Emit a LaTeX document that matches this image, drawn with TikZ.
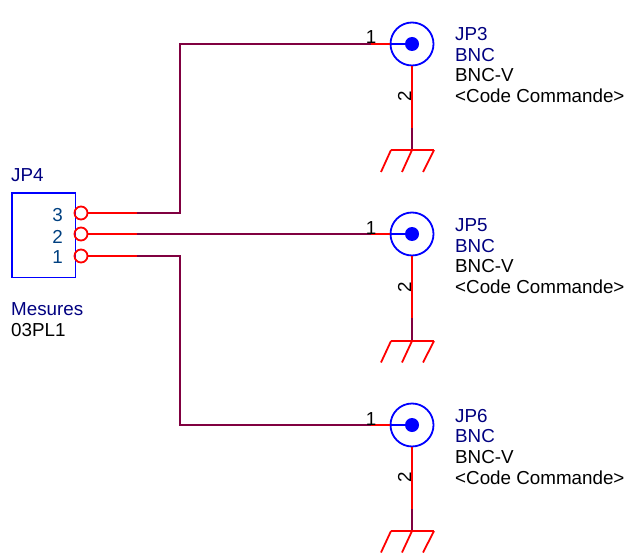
\documentclass[tikz,border=0pt]{standalone}
\usepackage{fontspec}
\setmainfont{Liberation Sans}
\definecolor{pinred}{HTML}{FF0000}
\definecolor{symblue}{HTML}{0000FF}
\definecolor{wirepurple}{HTML}{800040}
\definecolor{refnavy}{HTML}{000080}
\definecolor{pinnum}{HTML}{004080}
\tikzset{
	pinline/.style={color=pinred, line width=1.8pt},
	wireline/.style={color=wirepurple, line width=1.8pt},
	symline/.style={color=symblue, line width=1.8pt},
	bncring/.style={circle, draw=symblue, line width=1.8pt, minimum size=43pt, inner sep=0pt},
	bncdot/.style={circle, fill=symblue, minimum size=14pt, inner sep=0pt},
	pinring/.style={circle, draw=pinred, line width=1.8pt, minimum size=13pt, inner sep=0pt},
	txt/.style={anchor=base west, inner sep=0pt, font=\fontsize{18.8}{20}\selectfont},
	reftxt/.style={txt, text=refnavy},
	pinno/.style={anchor=base, inner sep=0pt, font=\fontsize{18.8}{20}\selectfont},
	gndbar/.style={color=pinred, line width=1.8pt}
}
\begin{document}
\begin{tikzpicture}[x=1pt, y=-1pt]
	\useasboundingbox (0,0) rectangle (628,553);
	% connector JP4
	\node[symline, draw, minimum width=63.5pt, minimum height=84.5pt, inner sep=0pt, anchor=north west] (jp4) at (11,192) {};
	\node[reftxt] (jp4ref) at (11,182) {JP4};
	\node[reftxt] (jp4val) at (11,315) {Mesures};
	\node[txt] (jp4pkg) at (11,336) {03PL1};
	\node[pinno, anchor=base east, text=pinnum] (jp4n3) at (63,221.5) {3};
	\node[pinno, anchor=base east, text=pinnum] (jp4n2) at (63,243) {2};
	\node[pinno, anchor=base east, text=pinnum] (jp4n1) at (63,263.5) {1};
	\node[pinring] (jp4p3) at (81,213) {};
	\node[pinring] (jp4p2) at (81,234) {};
	\node[pinring] (jp4p1) at (81,256) {};
	\coordinate (w3) at (137,213);
	\coordinate (w2) at (137,234);
	\coordinate (w1) at (137,256);
	\coordinate (k3) at (180,213);
	\coordinate (k1) at (180,256);
	\draw[pinline] (jp4p3) -- (w3);
	\draw[pinline] (jp4p2) -- (w2);
	\draw[pinline] (jp4p1) -- (w1);
	% JP3
	\node[bncring] (jp3) at (412,44) {};
	\node[bncdot] (jp3c) at (412,44) {};
	\coordinate (jp3a) at (371,44);
	\coordinate (jp3b) at (412,128);
	\coordinate (jp3g) at (412,150);
	\coordinate (jp3l) at (391,150);
	\coordinate (jp3r) at (434,150);
	\coordinate (jp3s1) at (381,172);
	\coordinate (jp3s2) at (402,172);
	\coordinate (jp3s3) at (423,172);
	\draw[wireline] (w3) -- (k3) |- (jp3a);
	\draw[pinline] (jp3a) -- (jp3.west);
	\draw[symline] (jp3.west) -- (jp3c);
	\draw[pinline] (jp3.south) -- (jp3b);
	\draw[wireline] (jp3b) -- (jp3g);
	\draw[gndbar] (jp3l) -- (jp3r);
	\draw[gndbar] (jp3l) -- (jp3s1);
	\draw[gndbar] (jp3g) -- (jp3s2);
	\draw[gndbar] (jp3r) -- (jp3s3);
	\node[pinno] (jp3n1) at (371,44) {1};
	\node[pinno, rotate=90] (jp3n2) at (411,96.5) {2};
	\node[reftxt] (jp3ref) at (455,41) {JP3};
	\node[reftxt] (jp3val) at (455,61.5) {BNC};
	\node[txt] (jp3pkg) at (455,82) {BNC-V};
	\node[txt] (jp3code) at (455,103) {<Code Commande>};
	% JP5
	\node[bncring] (jp5) at (412,234) {};
	\node[bncdot] (jp5c) at (412,234) {};
	\coordinate (jp5a) at (371,234);
	\coordinate (jp5b) at (412,318);
	\coordinate (jp5g) at (412,341);
	\coordinate (jp5l) at (391,341);
	\coordinate (jp5r) at (434,341);
	\coordinate (jp5s1) at (381,362.5);
	\coordinate (jp5s2) at (402,362.5);
	\coordinate (jp5s3) at (423,362.5);
	\draw[wireline] (w2) -- (jp5a);
	\draw[pinline] (jp5a) -- (jp5.west);
	\draw[symline] (jp5.west) -- (jp5c);
	\draw[pinline] (jp5.south) -- (jp5b);
	\draw[wireline] (jp5b) -- (jp5g);
	\draw[gndbar] (jp5l) -- (jp5r);
	\draw[gndbar] (jp5l) -- (jp5s1);
	\draw[gndbar] (jp5g) -- (jp5s2);
	\draw[gndbar] (jp5r) -- (jp5s3);
	\node[pinno] (jp5n1) at (371,234.5) {1};
	\node[pinno, rotate=90] (jp5n2) at (411,287) {2};
	\node[reftxt] (jp5ref) at (455,231.5) {JP5};
	\node[reftxt] (jp5val) at (455,252) {BNC};
	\node[txt] (jp5pkg) at (455,272.5) {BNC-V};
	\node[txt] (jp5code) at (455,293.5) {<Code Commande>};
	% JP6
	\node[bncring] (jp6) at (412,425) {};
	\node[bncdot] (jp6c) at (412,425) {};
	\coordinate (jp6a) at (371,425);
	\coordinate (jp6b) at (412,509);
	\coordinate (jp6g) at (412,531);
	\coordinate (jp6l) at (391,531);
	\coordinate (jp6r) at (434,531);
	\coordinate (jp6s1) at (381,552.5);
	\coordinate (jp6s2) at (402,552.5);
	\coordinate (jp6s3) at (423,552.5);
	\draw[wireline] (w1) -- (k1) |- (jp6a);
	\draw[pinline] (jp6a) -- (jp6.west);
	\draw[symline] (jp6.west) -- (jp6c);
	\draw[pinline] (jp6.south) -- (jp6b);
	\draw[wireline] (jp6b) -- (jp6g);
	\draw[gndbar] (jp6l) -- (jp6r);
	\draw[gndbar] (jp6l) -- (jp6s1);
	\draw[gndbar] (jp6g) -- (jp6s2);
	\draw[gndbar] (jp6r) -- (jp6s3);
	\node[pinno] (jp6n1) at (371,425) {1};
	\node[pinno, rotate=90] (jp6n2) at (411,477.5) {2};
	\node[reftxt] (jp6ref) at (455,422) {JP6};
	\node[reftxt] (jp6val) at (455,442.5) {BNC};
	\node[txt] (jp6pkg) at (455,463) {BNC-V};
	\node[txt] (jp6code) at (455,484) {<Code Commande>};
\end{tikzpicture}
\end{document}
